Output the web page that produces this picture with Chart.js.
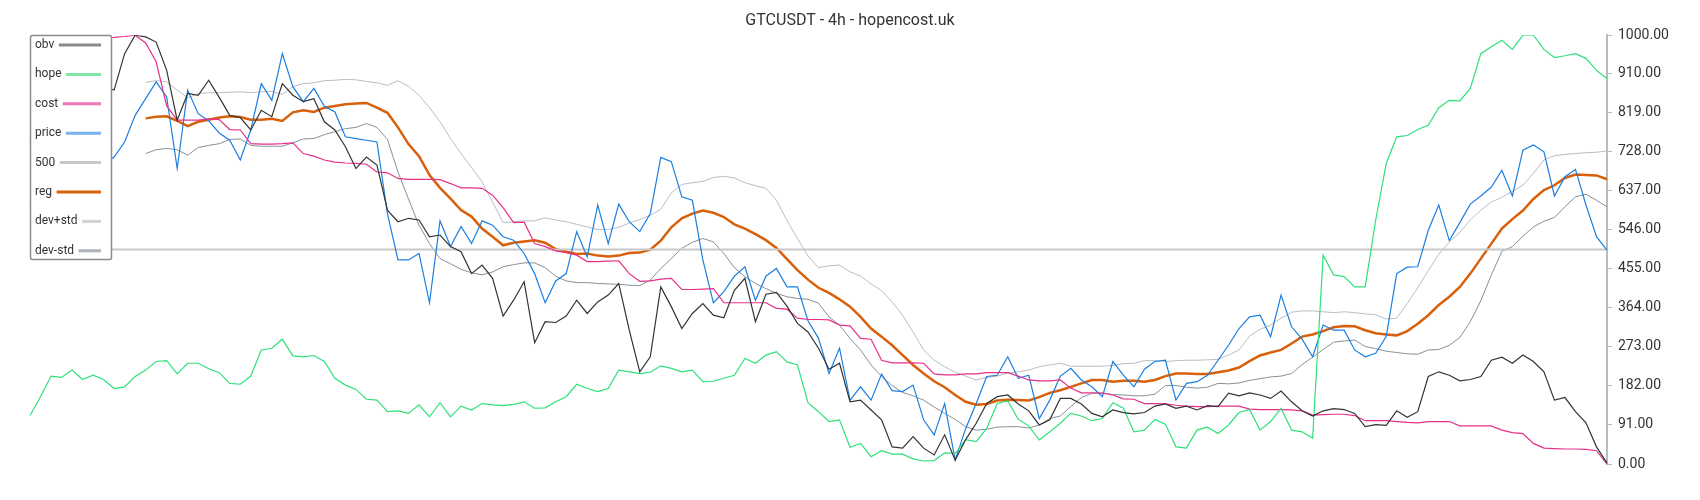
<!DOCTYPE html>
<html>
<head>
<meta charset="utf-8">
<title>GTCUSDT - 4h - hopencost.uk</title>
<script src="https://cdn.jsdelivr.net/npm/chart.js@4.4.1/dist/chart.umd.min.js"></script>
<style>
  html, body { margin: 0; padding: 0; background: #fff; }
</style>
</head>
<body>
<canvas id="hopeChart" width="1700" height="500"></canvas>
<script>
// values, one per candle step (151 steps)
const obv = [
  750, 790, 830, 810, 850, 870, 860, 880, 872, 957,
  1000, 996, 984, 918, 802, 864, 860, 895, 855, 813,
  808, 779, 825, 810, 887, 860, 845, 852, 798, 779,
  740, 689, 716, 697, 592, 565, 573, 569, 530, 534,
  507, 495, 444, 464, 433, 345, 382, 425, 283, 332,
  330, 345, 382, 351, 378, 394, 421, 312, 215, 250,
  413, 367, 316, 351, 374, 347, 341, 405, 433, 332,
  396, 400, 368, 328, 308, 270, 221, 235, 145, 149,
  126, 103, 40, 37, 64, 37, 21, 68, 9, 57,
  95, 141, 157, 161, 140, 124, 91, 103, 153, 153,
  140, 118, 110, 126, 120, 117, 120, 135, 140, 130,
  135, 126, 136, 134, 165, 159, 166, 161, 153, 170,
  145, 124, 112, 124, 129, 127, 118, 87, 92, 90,
  124, 109, 122, 204, 215, 207, 194, 197, 204, 242,
  249, 235, 254, 239, 215, 149, 155, 122, 96, 40,
  2
];
const hope = [
  113, 157, 205, 202, 219, 197, 207, 197, 176, 180,
  204, 219, 239, 241, 210, 235, 235, 222, 213, 188,
  186, 205, 266, 270, 291, 252, 250, 253, 239, 200,
  184, 174, 151, 149, 122, 124, 118, 138, 110, 143,
  110, 135, 126, 141, 138, 136, 139, 145, 130, 131,
  145, 157, 186, 176, 169, 176, 219, 215, 211, 214,
  229, 223, 215, 219, 192, 193, 200, 207, 246, 235,
  254, 262, 238, 231, 143, 122, 99, 103, 39, 48,
  17, 31, 23, 23, 12, 7, 8, 26, 25, 57,
  52, 83, 141, 147, 104, 89, 56, 75, 95, 118,
  112, 101, 106, 143, 130, 75, 79, 104, 93, 40,
  37, 79, 86, 71, 91, 120, 127, 79, 99, 130,
  79, 75, 60, 487, 441, 437, 413, 413, 569, 701,
  763, 766, 780, 790, 831, 848, 847, 876, 957, 973,
  988, 967, 1000, 1000, 967, 948, 952, 957, 946, 918,
  899
];
const cost = [
  985, 986, 988, 990, 990, 992, 993, 994, 995, 997,
  1000, 982, 938, 835, 802, 802, 802, 805, 803, 780,
  779, 747, 746, 746, 747, 749, 724, 718, 709, 704,
  702, 701, 699, 681, 679, 666, 664, 664, 664, 663,
  654, 644, 644, 643, 627, 598, 563, 564, 514, 507,
  497, 493, 487, 472, 472, 473, 474, 444, 426, 427,
  431, 433, 407, 407, 408, 409, 376, 376, 376, 376,
  376, 363, 361, 340, 337, 337, 336, 324, 322, 293,
  291, 242, 236, 236, 236, 235, 210, 208, 208, 210,
  210, 213, 213, 213, 205, 196, 194, 194, 196, 177,
  166, 166, 165, 161, 152, 151, 141, 141, 140, 137,
  135, 134, 134, 135, 135, 135, 128, 127, 127, 127,
  126, 124, 114, 115, 116, 116, 113, 101, 101, 101,
  99, 97, 96, 99, 99, 99, 89, 89, 89, 89,
  79, 73, 71, 48, 37, 36, 35, 35, 34, 31,
  0
];
const price = [
  610, 650, 680, 700, 690, 720, 740, 700, 716, 751,
  813, 852, 891, 856, 689, 872, 817, 800, 772, 755,
  709, 779, 887, 848, 957, 880, 845, 876, 834, 821,
  763, 759, 755, 751, 584, 476, 476, 491, 376, 567,
  507, 554, 514, 567, 557, 530, 522, 491, 444, 376,
  427, 444, 542, 483, 604, 514, 606, 565, 542, 584,
  715, 705, 623, 615, 476, 376, 402, 438, 460, 382,
  438, 456, 413, 413, 334, 293, 211, 270, 149, 180,
  149, 210, 171, 169, 184, 103, 68, 141, 9, 83,
  141, 204, 207, 250, 200, 207, 106, 149, 205, 223,
  196, 180, 157, 239, 207, 180, 221, 239, 242, 149,
  188, 192, 207, 242, 277, 316, 343, 347, 297, 394,
  320, 291, 250, 324, 312, 312, 266, 250, 258, 297,
  444, 459, 460, 545, 604, 521, 563, 606, 625, 646,
  685, 625, 732, 744, 728, 625, 670, 687, 604, 530,
  499
];
const reg = [
  null, null, null, null, null, null, null, null, null, null,
  null, 806, 810, 811, 800, 788, 798, 803, 808, 811,
  809, 803, 803, 805, 800, 820, 825, 821, 831, 835,
  839, 841, 842, 831, 819, 785, 746, 718, 674, 644,
  619, 592, 577, 549, 530, 510, 516, 519, 522, 516,
  501, 495, 490, 491, 486, 484, 486, 492, 493, 500,
  521, 552, 573, 584, 591, 586, 576, 559, 549, 536,
  522, 504, 478, 452, 430, 411, 399, 384, 367, 343,
  316, 297, 277, 254, 231, 211, 193, 179, 161, 145,
  138, 140, 148, 150, 149, 148, 156, 166, 172, 180,
  188, 196, 196, 192, 194, 194, 192, 196, 205, 211,
  211, 210, 210, 214, 218, 225, 240, 253, 260, 266,
  281, 297, 302, 310, 319, 322, 321, 312, 305, 302,
  300, 310, 327, 347, 371, 390, 413, 444, 479, 514,
  549, 571, 591, 618, 639, 650, 667, 675, 674, 673,
  664
];
const devPlus = [
  null, null, null, null, null, null, null, null, null, null,
  null, 890, 894, 891, 872, 854, 864, 866, 866, 867,
  868, 866, 868, 869, 862, 880, 887, 889, 894, 895,
  897, 896, 892, 889, 883, 894, 881, 860, 831, 798,
  759, 724, 691, 658, 611, 563, 565, 567, 567, 574,
  569, 565, 559, 553, 547, 547, 552, 562, 570, 580,
  594, 632, 652, 656, 659, 668, 671, 667, 656, 649,
  643, 615, 568, 526, 485, 458, 462, 464, 448, 438,
  420, 404, 378, 347, 308, 266, 242, 227, 214, 205,
  196, 202, 205, 212, 215, 219, 227, 231, 235, 228,
  228, 228, 228, 230, 234, 235, 241, 241, 239, 241,
  242, 242, 243, 244, 254, 266, 298, 314, 324, 340,
  354, 357, 357, 355, 353, 355, 353, 350, 348, 338,
  340, 374, 411, 451, 489, 518, 540, 569, 592, 611,
  622, 636, 650, 678, 709, 719, 722, 724, 726, 727,
  730
];
const devMinus = [
  null, null, null, null, null, null, null, null, null, null,
  null, 724, 733, 736, 733, 720, 738, 743, 747, 757,
  758, 743, 741, 741, 741, 749, 758, 759, 768, 775,
  782, 785, 794, 785, 757, 681, 618, 557, 514, 479,
  467, 454, 446, 441, 448, 460, 465, 469, 469, 458,
  438, 427, 423, 423, 421, 420, 419, 417, 416, 429,
  456, 479, 503, 517, 526, 518, 491, 458, 437, 421,
  409, 398, 390, 386, 384, 375, 343, 324, 293, 266,
  231, 204, 183, 167, 159, 149, 133, 118, 104, 87,
  79, 81, 86, 87, 87, 84, 91, 106, 112, 134,
  155, 165, 166, 162, 161, 159, 159, 163, 183, 183,
  179, 177, 179, 188, 187, 189, 195, 199, 203, 205,
  211, 232, 249, 267, 284, 287, 289, 274, 269, 263,
  260, 257, 256, 266, 267, 277, 295, 332, 381, 441,
  496, 507, 531, 553, 566, 575, 600, 623, 629, 615,
  600
];
const level500 = obv.map(() => 500); // flat reference line at 500
const yTicks = [0, 91, 182, 273, 364, 455, 546, 637, 728, 819, 910, 1000];
const labels = obv.map((_, i) => i + 1);

// legend swatch colours (lighter than the lines themselves)
const legendColors = ['#8a8a8a', '#7de8a8', '#ee77b8', '#77b4ec', '#c8c8c8', '#d9600a', '#d0d4d8', '#aab2ba'];

// boxed legend drawn over the top-left of the plot
const boxLegend = {
  id: 'boxLegend',
  afterDraw(chart) {
    const ctx = chart.ctx;
    ctx.save();
    ctx.beginPath();
    ctx.roundRect(30.5, 35.5, 81, 224, 2);
    ctx.fillStyle = '#fff';
    ctx.fill();
    ctx.lineWidth = 1.5;
    ctx.strokeStyle = '#8c8c8c';
    ctx.stroke();

    ctx.font = '12px Roboto';
    ctx.textBaseline = 'middle';
    chart.data.datasets.forEach((ds, i) => {
      const y = 45 + i * 29.4;
      ctx.fillStyle = '#333';
      ctx.fillText(ds.label, 35, y);
      const w = ctx.measureText(ds.label).width;
      ctx.beginPath();
      ctx.moveTo(35 + w + 4.5, y);
      ctx.lineTo(101, y);
      ctx.lineWidth = 3;
      ctx.strokeStyle = legendColors[i];
      ctx.stroke();
    });
    ctx.restore();
  }
};

const ctx = document.getElementById('hopeChart').getContext('2d');

new Chart(ctx, {
  type: 'line',
  data: {
    labels: labels,
    datasets: [
      { label: 'obv', data: obv, borderColor: '#333333', borderWidth: 1.2 },
      { label: 'hope', data: hope, borderColor: '#2ee07a', borderWidth: 1.2 },
      { label: 'cost', data: cost, borderColor: '#e8308a', borderWidth: 1.2 },
      { label: 'price', data: price, borderColor: '#1a7fe0', borderWidth: 1.2 },
      { label: '500', data: level500, borderColor: '#c8c8c8', borderWidth: 2 },
      { label: 'reg', data: reg, borderColor: '#d9600a', borderWidth: 2.5 },
      { label: 'dev+std', data: devPlus, borderColor: '#b8bec6', borderWidth: 1 },
      { label: 'dev-std', data: devMinus, borderColor: '#86909a', borderWidth: 1 }
    ]
  },
  options: {
    responsive: false,
    animation: false,
    devicePixelRatio: 1,
    layout: {
      // symmetric side padding keeps the title centred on the canvas
      padding: { left: 30, right: 30, top: 0, bottom: 36 }
    },
    elements: {
      point: { radius: 0 },
      line: { tension: 0, fill: false }
    },
    plugins: {
      legend: { display: false },
      tooltip: { enabled: false },
      title: {
        display: true,
        text: 'GTCUSDT - 4h - hopencost.uk',
        color: '#333',
        font: { family: 'Roboto', size: 16, weight: 'normal' },
        padding: { top: 11, bottom: 5 }
      }
    },
    scales: {
      x: { display: false },
      y: {
        position: 'right',
        min: 0,
        max: 1000,
        afterBuildTicks: (scale) => {
          scale.ticks = yTicks.map(v => ({ value: v }));
        },
        afterFit: (scale) => {
          scale.width = 63;
        },
        grid: {
          drawOnChartArea: false,
          drawTicks: true,
          tickLength: 5,
          color: '#b4bcc4'
        },
        border: { display: true, color: '#b4bcc4', width: 2 },
        ticks: {
          padding: 6,
          color: '#333',
          font: { family: 'Roboto', size: 14 },
          callback: (v) => Number(v).toFixed(2)
        }
      }
    }
  },
  plugins: [boxLegend]
});
</script>
</body>
</html>
